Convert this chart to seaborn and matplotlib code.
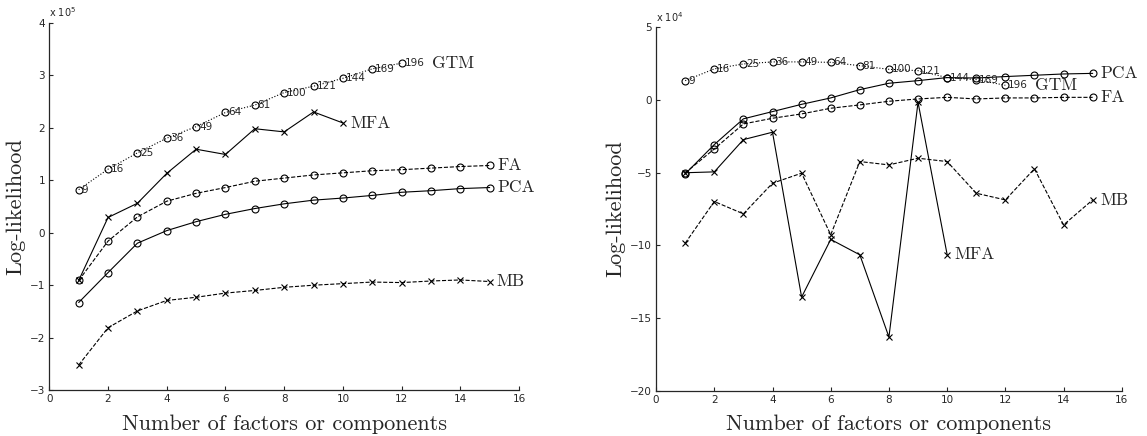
import numpy as np
import pandas as pd
import seaborn as sns
import matplotlib
matplotlib.use("Agg")
import matplotlib.pyplot as plt

sns.set_style("ticks")
plt.rcParams['font.family'] = ['DejaVu Sans']
plt.rcParams['axes.unicode_minus'] = True

# ---------------- data (left panel, units of 1e5) ----------------
x15 = list(range(1, 16))
x12 = list(range(1, 13))
x10 = list(range(1, 11))
gtm_labels = ["9", "16", "25", "36", "49", "64", "81", "100", "121", "144", "169", "196"]

L_gtm = [0.82, 1.21, 1.52, 1.80, 2.02, 2.29, 2.43, 2.67, 2.79, 2.94, 3.12, 3.23]
L_mfa = [-0.91, 0.29, 0.56, 1.13, 1.59, 1.49, 1.98, 1.92, 2.30, 2.09]
L_fa = [-0.91, -0.16, 0.30, 0.60, 0.75, 0.86, 0.98, 1.04, 1.10, 1.14, 1.18, 1.20, 1.23, 1.26, 1.28]
L_pca = [-1.33, -0.76, -0.20, 0.04, 0.21, 0.35, 0.46, 0.55, 0.62, 0.66, 0.71, 0.77, 0.80, 0.84, 0.86]
L_mb = [-2.52, -1.81, -1.49, -1.29, -1.23, -1.15, -1.10, -1.04, -1.00, -0.97, -0.94, -0.95, -0.92, -0.90, -0.93]

# ---------------- data (right panel, units of 1e4) ----------------
R_gtm = [1.34, 2.15, 2.49, 2.63, 2.63, 2.60, 2.37, 2.12, 2.03, 1.55, 1.41, 1.02]
R_pca = [-5.08, -3.06, -1.29, -0.79, -0.29, 0.15, 0.72, 1.16, 1.34, 1.55, 1.52, 1.62, 1.71, 1.80, 1.84]
R_fa = [-5.01, -3.36, -1.64, -1.25, -0.95, -0.56, -0.33, -0.08, 0.08, 0.19, 0.08, 0.15, 0.15, 0.19, 0.19]
R_mfa = [-5.0, -4.94, -2.72, -2.21, -13.56, -9.59, -10.65, -16.31, -0.15, -10.63]
R_mb = [-9.85, -6.98, -7.83, -5.72, -5.03, -9.27, -4.23, -4.46, -4.00, -4.23, -6.41, -6.87, -4.73, -8.59, -6.87]

xlabel = "Number of factors or components"
ylabel = "Log-likelihood"

fig = plt.figure(figsize=(11.47, 4.36), dpi=100)
axL = fig.add_axes([0.043, 0.105, 0.4095, 0.843])
axR = fig.add_axes([0.572, 0.104, 0.406, 0.833])

SERIF = 'cmr10'
lw = 0.8


def draw(ax, x, y, ls, mk):
    kw = dict(color='k', linewidth=lw, linestyle=ls, marker=mk, ax=ax, legend=False)
    if mk == 'o':
        kw.update(markersize=5, markerfacecolor='none', markeredgecolor='k', markeredgewidth=0.8)
    else:
        kw.update(markersize=4, markeredgewidth=0.8, markeredgecolor='k')
    sns.lineplot(x=x, y=y, **kw)


def style_ax(ax, xlim, ylim, yticks, sci):
    ax.set_xlim(*xlim)
    ax.set_ylim(*ylim)
    ax.set_xticks(range(0, 17, 2))
    ax.set_yticks(yticks)
    for s in ['top', 'right']:
        ax.spines[s].set_visible(False)
    for s in ['left', 'bottom']:
        ax.spines[s].set_linewidth(0.9)
    ax.tick_params(direction='in', length=3, width=0.8, labelsize=7.5, pad=3)
    ax.set_xlabel(xlabel, fontsize=16, family=SERIF, labelpad=7)
    ax.set_ylabel(ylabel, fontsize=16, family=SERIF, labelpad=3)
    ax.text(0.0, 1.01, sci, transform=ax.transAxes, fontsize=7, ha='left', va='bottom')


# left
draw(axL, x12, L_gtm, ':', 'o')
draw(axL, x10, L_mfa, '-', 'x')
draw(axL, x15, L_fa, '--', 'o')
draw(axL, x15, L_pca, '-', 'o')
draw(axL, x15, L_mb, '--', 'x')
for xi, yi, lab in zip(x12, L_gtm, gtm_labels):
    axL.text(xi + 0.1, yi, lab, fontsize=7.5, va='center', ha='left')
axL.text(13.03, L_gtm[-1], "GTM", family=SERIF, fontsize=12.5, va='center')
axL.text(10.27, L_mfa[-1], "MFA", family=SERIF, fontsize=12.5, va='center')
axL.text(15.26, L_fa[-1], "FA", family=SERIF, fontsize=12.5, va='center')
axL.text(15.26, L_pca[-1], "PCA", family=SERIF, fontsize=12.5, va='center')
axL.text(15.24, L_mb[-1], "MB", family=SERIF, fontsize=12.5, va='center')
style_ax(axL, (0, 16), (-3, 4), range(-3, 5), r"x 10$^5$")

# right
draw(axR, x12, R_gtm, ':', 'o')
draw(axR, x15, R_pca, '-', 'o')
draw(axR, x15, R_fa, '--', 'o')
draw(axR, x10, R_mfa, '-', 'x')
draw(axR, x15, R_mb, '--', 'x')
for xi, yi, lab in zip(x12, R_gtm, gtm_labels):
    axR.text(xi + 0.1, yi, lab, fontsize=7.5, va='center', ha='left')
axR.text(13.02, R_gtm[-1], "GTM", family=SERIF, fontsize=12.5, va='center')
axR.text(10.24, R_mfa[-1], "MFA", family=SERIF, fontsize=12.5, va='center')
axR.text(15.28, R_fa[-1], "FA", family=SERIF, fontsize=12.5, va='center')
axR.text(15.28, R_pca[-1], "PCA", family=SERIF, fontsize=12.5, va='center')
axR.text(15.26, R_mb[-1], "MB", family=SERIF, fontsize=12.5, va='center')
style_ax(axR, (0, 16), (-20, 5), range(-20, 6, 5), r"x 10$^4$")

fig.savefig("out.png", dpi=100)
